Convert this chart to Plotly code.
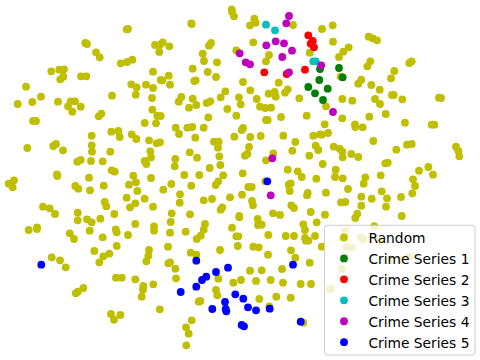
import plotly.graph_objects as go

random_points = [
(126.7,29.3),(128,29),(85.3,43),(87,44),(96,52.3),(99.7,57.3),(120.7,63.3),(127,62),(132.3,59.7),
(155,45),(160,44.8),(159.3,51.9),(51.3,71.3),(59.3,69.7),(64,69.3),(63.3,76.7),(60.3,79.3),(81,76.3),(86.3,76.3),
(153,71.7),(160.7,80),(26,86.7),(17.7,104),(32.3,102),(41,96.7),(58,101.7),(70.7,101.3),(75,101.3),(68,106.3),
(72.3,111.7),(80.7,106.7),(112,95.7),(131.3,84.3),(136.7,87.3),(135.7,94.7),(146,84.7),(153,88),(152,98),(152.3,109.7),
(157.3,116),(101.3,113.7),(98.7,116.3),(33,121),(36,121),(144.7,123),(156,123.3),
(231.7,9.3),(232,11.7),(234,16.3),(191.7,24),(191.3,23.3),(254.3,18.7),(255.7,22.7),(250,25.3),(293,25),
(162.7,42.3),(169.3,46.3),(211,43),(209,45.7),(202.7,53.7),(204,61),(217,62.3),(192.7,68.7),(207.7,72),(216,77),
(253.3,42.3),(236.3,50.3),(269,55),(266,61.3),(309.7,52.7),(168.7,75.7),(162.3,80.3),(170,84.7),(194.3,81),(195.7,80.3),
(243,82),(278.7,82.7),(250.3,90.3),(225.3,91.3),(274.7,92),(268.7,93.7),(275.7,96.7),(287.7,89.3),(285,92.7),(299.3,98.3),
(181.3,97),(178.7,101.7),(192.7,98.7),(196.3,105),(189,107.7),(210.3,101.3),(206.7,103),(220.7,97.3),(239,97.3),(240.7,104.3),
(256.7,99),(227.3,109),(260,106.7),(265.3,108),(271,107.7),(208.3,117.3),(236.3,115.7),(281,117),(306.7,115.7),(266,120),(267.7,120),
(160.7,116),(332.7,25.3),(322,29),(333,41.7),(368.7,36.7),(372.7,38.3),(377,40.3),(348.7,47.3),(343.3,51.7),(339,57),
(370.3,61.3),(367.3,66.3),(411.7,61.3),(409.3,63),(394.3,71),(391,78.3),(340.7,76.7),(361.3,79.7),(358.3,83.7),(371.3,85),
(379.7,89.7),(392,95),(393.7,95),(402.3,99.3),(375,99),(380,104),(342.3,99),(352.3,100.7),(439,97.7),(441,98),(326,106.3),
(385.7,114),(369.3,116.7),(342.3,118.3),
(27.3,148),(53.3,146),(56,144),(63,150.3),(91.7,135.7),(91.7,145.3),(92,151.7),(91,161),(77.3,161.7),(80.7,160),
(102.7,161.3),(110.3,151.7),(111.3,131.7),(118.3,131),(119.7,137),(131.7,134.3),(136.3,139),(149,140.3),(156.7,143.3),(160,142.3),
(150.3,151.3),(151,157.3),(144.7,161),(146.3,164),(111.7,170.3),(114.7,171.7),(57,174.3),(57.3,176),(14,180.3),(8.7,183.7),(12.7,187.3),
(133.3,175.7),(151,178),(129,184.7),(136,182.3),(89,177.7),(75.3,186),(78.3,188.7),(90,190.3),(103.7,185.7),(137.3,191),
(126.7,197.7),(144.7,198.7),(135.3,203.3),(130,207.3),(153,206.7),(104.7,202),(106.3,206.3),(114.3,214),(43,206.7),(49.7,208.3),(55,214),
(77.7,212.7),(77.7,220.3),(87,219.3),(91.7,222.3),(100.3,218.7),(135.3,224),(154,226.3),(154,230.7),(28.7,230),(37,227.3),(37,229),
(89.7,230.7),(115.7,229.3),(116.7,232.3),(128,235),(69.7,233.3),(74,239),(102.7,237.3),
(175.7,127.7),(179,134),(187.3,127.7),(192.3,127),(203.7,127.7),(195.3,137.7),(243,128),(241.7,130),(234.3,136.7),(250.3,137),(260.7,136),
(283.3,135.7),(295.3,142),(313.3,135.7),(320,134.3),(214,141.7),(218.7,141.7),(218,147.7),(249,147),(189.7,152.3),(197,157.7),(219.3,156.3),
(247.3,154),(245,155.7),(273.3,153.3),(266,160.3),(292.3,150.7),(309.3,155.7),(315.7,145.7),(318.3,150),(175.3,159),(174.7,166.3),(220.3,165),(209.7,168),
(287.7,169.7),(297.7,171.3),(301.7,177),(316.3,178.7),(184.3,175),(199.3,175),(223.3,175.3),(242.7,173.3),(171.3,184),(191.3,185.7),(218.3,181.3),(215.7,185),(163.3,189.7),
(265.3,181.3),(290.7,183.3),(288.7,184.7),(289.7,191),(248.3,187),(251.7,187),(180,194.3),(179.7,202.7),(203.7,200.3),(212,199),
(230,197.3),(242,194.7),(252,201),(253,205.3),(307.7,193),(307,195.3),(291.3,205.3),(294,208),(222.3,207.3),(220.7,209.7),(310.7,212),
(171.7,213.3),(190,214.3),(273,213.3),(280,215),(239.3,216),(239.3,217.3),(257.7,219),(258,225),(261.7,224.7),(170.7,222),(205,224),(232,227.7),
(203.7,229.7),(303.3,224.3),(316.7,222.3),(305,230),(170,232.7),(185.7,231.7),(200.7,235.7),(196.7,239),(236.3,236.3),(238.3,236.3),(268.3,235),
(285.7,236),(294,236),(315,236),(305,238),
(324.7,124.3),(355,124.3),(355.3,127),(362.7,127.3),(405,122.7),(431.7,124.7),(434.3,124.7),(321.7,134.7),(328,133),(373.3,141),(396.3,149.7),
(407,144.7),(411.7,144),(456,146.7),(458.3,151),(459.3,156.3),(333.7,146.7),(339.7,148.7),(342.3,151.7),(342.7,157.3),(351.3,154),(358.3,157),
(322.7,164),(385.3,163.3),(387.7,162.7),(335.7,169.7),(335,177),(342.7,178.3),(365.3,177.3),(363.7,183.7),(380.7,175.3),(419,170.7),(428.3,167),
(433,174.7),(413,179.3),(415,186),(348,189),(326,192.7),(381.7,191.3),(412.3,193.3),(361.3,196.7),(371.7,198.7),(387,198.3),(401,197),
(341,202.3),(345.3,202),(361.3,205.7),(386,206.7),(357.3,213.7),(355.3,218),(401.7,216),(325,214.7),
(374.3,226.2),(345,231),(361,237.3),(363.3,239.3),(379.3,240.7),(342.7,237.7),(321.7,246.7),(346.7,246.7),(352,247.7),(409,256.7),(391,260),(401.7,260),
(341.7,269),(331,289),(330,289),
(51.7,257.3),(60,260.3),(65.7,267.3),(94.3,251),(103.3,256.3),(109.3,253.7),(99.3,262.3),(116.7,246),(149,250),(148.3,255.7),(146.3,261.3),
(116,277.7),(121.7,277.7),(135.3,279.3),(143.3,286),(143,289.7),(141.7,296.7),(153.3,284.3),(83.3,288),(77.7,291.7),(75.7,293.3),
(111,314),(120.3,315),(114,319.7),(159.8,309.3),
(237.7,246),(168,246.7),(220,250),(253.3,246.7),(258.7,247.3),(268,254.7),(291,250.3),(295.3,257.7),(306,240.7),(308.3,240.7),(190.7,252.7),(196.3,254.7),
(170,262.3),(168.3,263.3),(175.3,268.7),(176,278.3),(309.7,262.7),(250,270.7),(261.7,270.3),(282,269),(218.3,278.7),(233.3,282.7),(241,280),(256,281),
(270.7,280),(283,282.7),(300.7,284),(311,284),(216,290),(217.3,295.3),(200.3,301),(198.7,301.7),(259.3,299),(276.3,296.7),(290.7,297.7),(269.3,306.3),
(191.7,320.3),(186,327.3),(188.7,333.7),(186.3,345.3),(303.3,322.7),
]
series_1_points = [(308.3,87),(315,93.3),(319.3,80),(320,69),(339,68),(342.7,77.3),(327.7,88.7),(323,100)]
series_2_points = [(308.3,35.3),(312.7,41),(310.7,43.7),(314,47.3),(264.3,72.3),(286.7,74),(305,69.7)]
series_3_points = [(266,24.7),(275,30.3),(313.3,61.3),(315.7,61.3)]
series_4_points = [(289,16),(286.3,23.3),(266.3,45.3),(275.7,41.3),(284,43.3),(292,50.7),(282.3,57),(239.7,53.3),(245.7,62.3),(250,64.3),
                   (289,72.3),(321.2,65.3),(333,112),(272.3,158.3),(270.7,195.3)]
series_5_points = [(41.3,264.7),(267.3,181.3),(196.3,260.7),(228,267.7),(216,272),(206.3,276.7),(202,280),(196.3,286.7),(180.7,292),(235.3,294.3),
                   (243.3,298.7),(225,302),(248,307.3),(256,310.3),(269.7,308.7),(212.3,309),(225.7,309),(226.3,311.3),(241.7,325),(244,326.3),
                   (300.7,321.7),(293,264.7)]

series_names = ["\u00a0Random", "\u00a0Crime Series 1", "\u00a0Crime Series 2", "\u00a0Crime Series 3", "\u00a0Crime Series 4", "\u00a0Crime Series 5"]
series_colors = ["#bfbf00", "#008000", "#ff0000", "#00bfbf", "#bf00bf", "#0000ff"]
all_series = [random_points, series_1_points, series_2_points, series_3_points, series_4_points, series_5_points]

fig = go.Figure()
for name, color, pts in zip(series_names, series_colors, all_series):
    fig.add_trace(go.Scatter(x=[p[0] for p in pts], y=[p[1] for p in pts], mode="markers", name=name,
                             marker=dict(color=color, size=7.8, line=dict(width=0))))

# rounded legend frame, semi-transparent over the points
L, R, T, B, C = 324.5, 475, 225.3, 355, 3
frame = (f"M {L+C} {T} L {R-C} {T} Q {R} {T} {R} {T+C} L {R} {B-C} Q {R} {B} {R-C} {B} "
         f"L {L+C} {B} Q {L} {B} {L} {B-C} L {L} {T+C} Q {L} {T} {L+C} {T} Z")
fig.add_shape(type="path", path=frame, xref="x", yref="y", layer="above",
              fillcolor="rgba(255,255,255,0.8)", line=dict(color="#cccccc", width=1))

fig.update_layout(
    width=480, height=360, margin=dict(l=0, r=0, t=0, b=0),
    paper_bgcolor="white", plot_bgcolor="white", showlegend=True,
    font=dict(family="DejaVu Sans", color="black", size=13.8),
    xaxis=dict(visible=False, range=[0, 480]),
    yaxis=dict(visible=False, range=[360, 0]),
    legend=dict(x=324/480, y=1-222/360, xanchor="left", yanchor="top",
                bgcolor="rgba(0,0,0,0)", borderwidth=0, itemwidth=30),
)
fig.write_html("out.html", config={"displayModeBar": False},
               post_script="document.body.style.margin='0';document.documentElement.style.overflow='hidden';")
